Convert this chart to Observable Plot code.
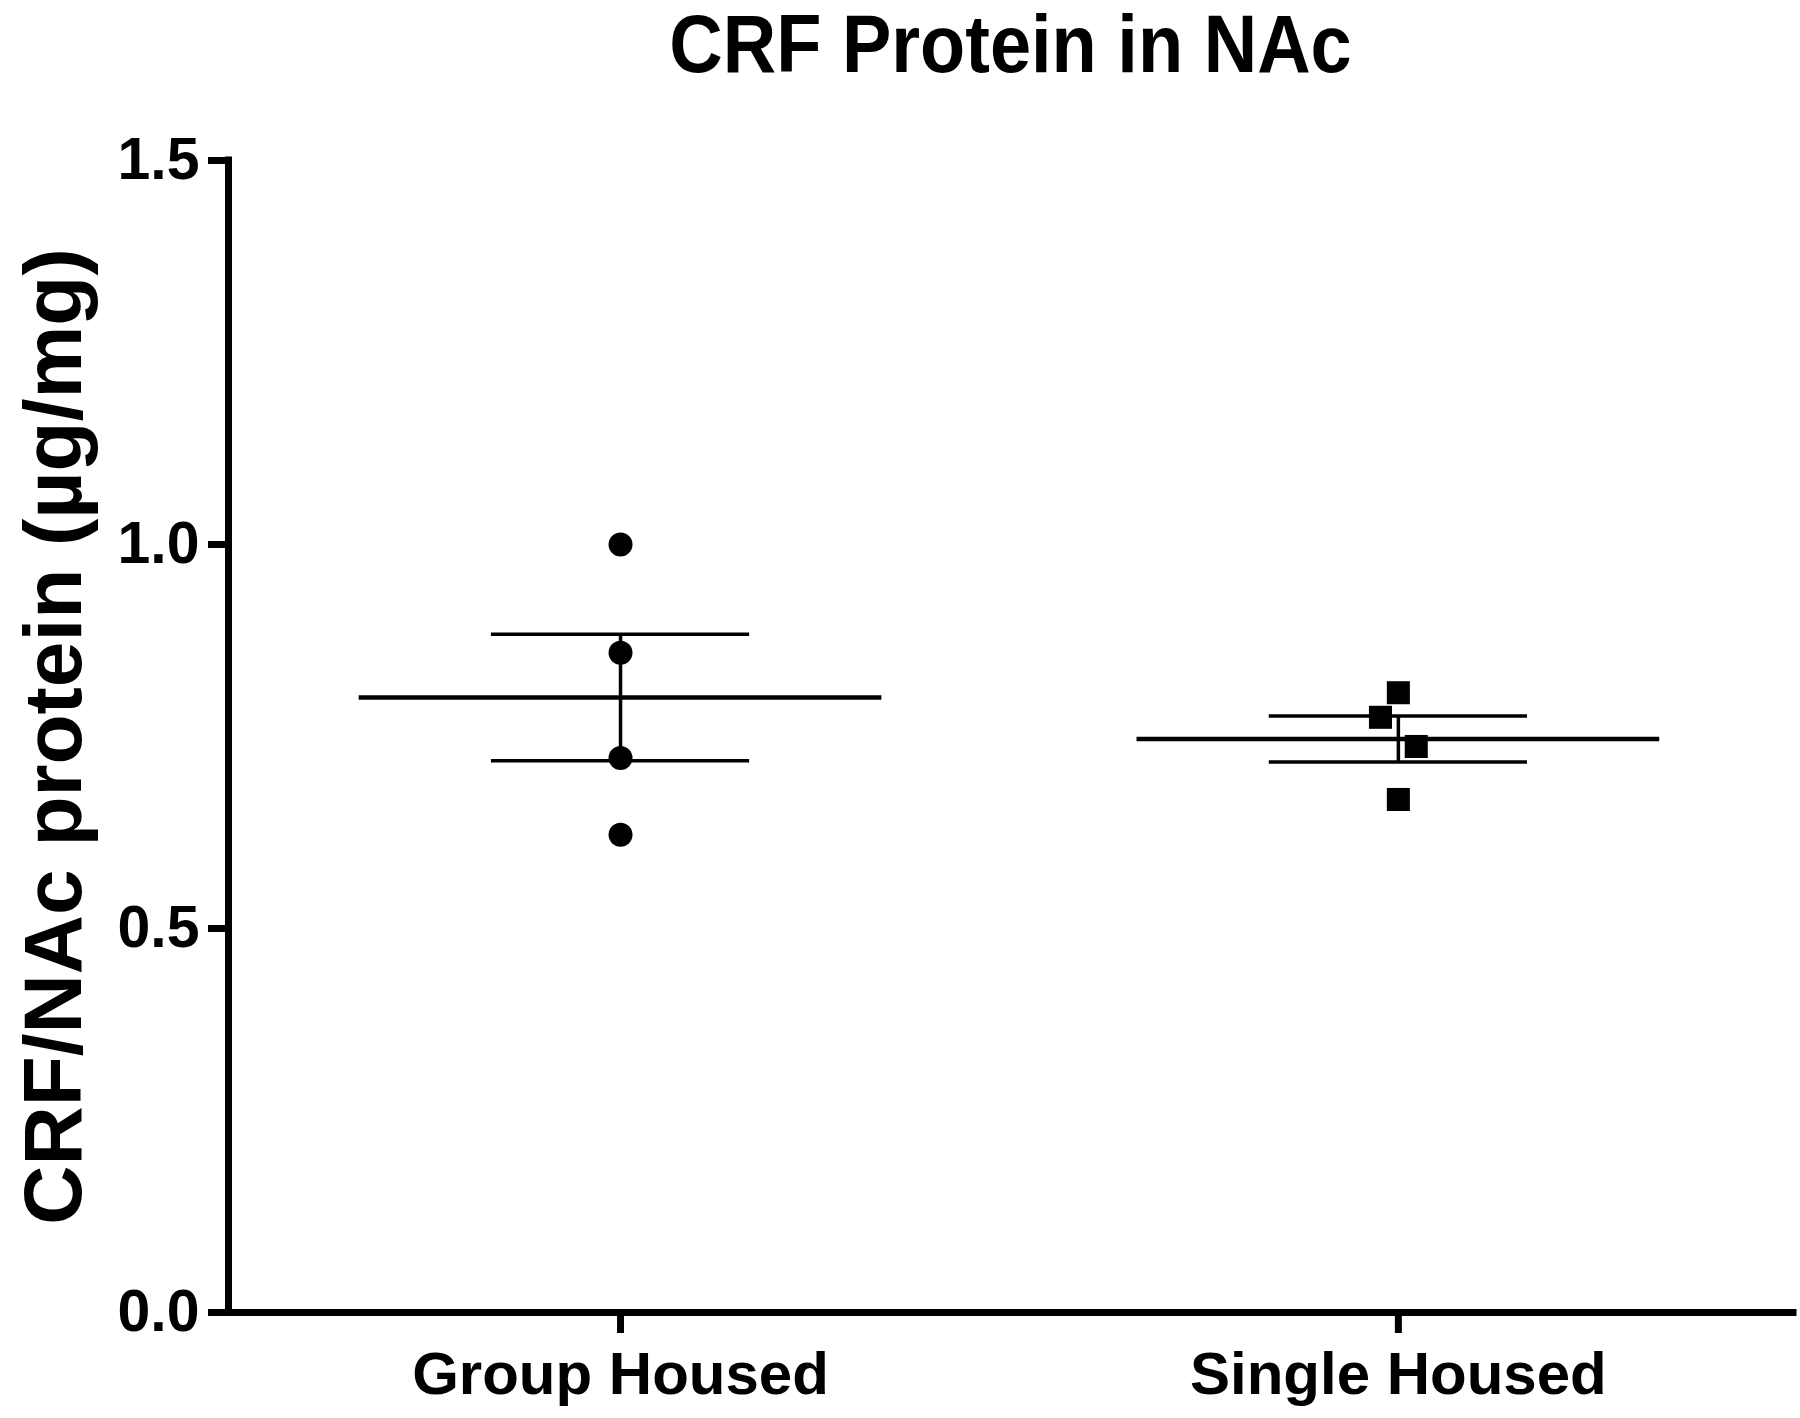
<!DOCTYPE html>
<html>
<head>
<meta charset="utf-8">
<script src="https://cdn.jsdelivr.net/npm/d3@7"></script>
<script src="https://cdn.jsdelivr.net/npm/@observablehq/plot@0.6"></script>
<style>
  html, body { margin: 0; padding: 0; background: #fff; }
  #title {
    width: 1565px; margin-left: 228px; height: 100px; box-sizing: border-box;
    padding-top: 10px; text-align: center;
    font-family: "Liberation Sans", Arial, sans-serif; font-weight: bold;
    font-size: 74px; line-height: 1; color: #000;
  }
  #title span { display: inline-block; transform: scaleY(1.1); transform-origin: 50% 85%; }
  #chart svg { display: block; }
</style>
</head>
<body>
<div id="title"><span>CRF Protein in NAc</span></div>
<div id="chart"></div>
<script>
const groups = ["Group Housed", "Single Housed"];
const groupValues = [1.0, 0.859, 0.722, 0.622];
const singleValues = [0.807, 0.775, 0.737, 0.668];
const groupJitter = [0, 0, 0, 0];
const singleJitter = [0, -0.023, 0.023, 0];
const yTicks = [0, 0.5, 1.0, 1.5];
const yLabel = "CRF/NAc protein (µg/mg)";

const xDomain = [0.496, 2.508];
const meanHalf = 0.336;
const semHalf = 0.166;

const groupPoints = groupValues.map((v, i) => ({pos: 1 + groupJitter[i], value: v}));
const singlePoints = singleValues.map((v, i) => ({pos: 2 + singleJitter[i], value: v}));

const stats = [groupValues, singleValues].map((vals, k) => {
  const mean = d3.mean(vals);
  const sem = d3.deviation(vals) / Math.sqrt(vals.length);
  return {pos: k + 1, mean, sem};
});

const chart = Plot.plot({
  width: 1800,
  height: 1318,
  marginTop: 60,
  marginBottom: 106,
  marginLeft: 228,
  marginRight: 7,
  style: {fontFamily: "'Liberation Sans', Arial, sans-serif", fontWeight: "bold", color: "#000", background: "#fff"},
  x: {type: "linear", domain: xDomain},
  y: {domain: [0, 1.5]},
  marks: [
    // group statistics
    Plot.ruleY(stats, {y: "mean", x1: d => d.pos - meanHalf, x2: d => d.pos + meanHalf, stroke: "#000", strokeWidth: 4.5}),
    Plot.ruleY(stats, {y: d => d.mean + d.sem, x1: d => d.pos - semHalf, x2: d => d.pos + semHalf, stroke: "#000", strokeWidth: 3.5}),
    Plot.ruleY(stats, {y: d => d.mean - d.sem, x1: d => d.pos - semHalf, x2: d => d.pos + semHalf, stroke: "#000", strokeWidth: 3.5}),
    Plot.ruleX(stats, {x: "pos", y1: d => d.mean - d.sem, y2: d => d.mean + d.sem, stroke: "#000", strokeWidth: 3.5}),
    // points
    Plot.dot(groupPoints, {x: "pos", y: "value", r: 12, fill: "#000", symbol: "circle"}),
    Plot.dot(singlePoints, {x: "pos", y: "value", r: 13, fill: "#000", symbol: "square"}),
    // axis lines
    Plot.ruleX([xDomain[0]], {stroke: "#000", strokeWidth: 7, strokeLinecap: "square"}),
    Plot.ruleY([0], {stroke: "#000", strokeWidth: 7, strokeLinecap: "square"}),
    // axes
    Plot.axisY({ticks: yTicks, tickFormat: d3.format(".1f"), tickSize: 20, tickPadding: 9, strokeWidth: 7, label: null, fontSize: 59, fontWeight: "bold"}),
    Plot.axisX({ticks: [1, 2], tickFormat: d => groups[d - 1], tickSize: 21, tickPadding: 18, strokeWidth: 7, label: null, fontSize: 60, fontWeight: "bold"}),
    // y label
    Plot.text([yLabel], {text: d => d, frameAnchor: "left", rotate: -90, dx: -148, lineAnchor: "bottom", textAnchor: "middle", fontSize: 82, fontWeight: "bold", fill: "#000"})
  ]
});
document.getElementById("chart").appendChild(chart);
</script>
</body>
</html>
